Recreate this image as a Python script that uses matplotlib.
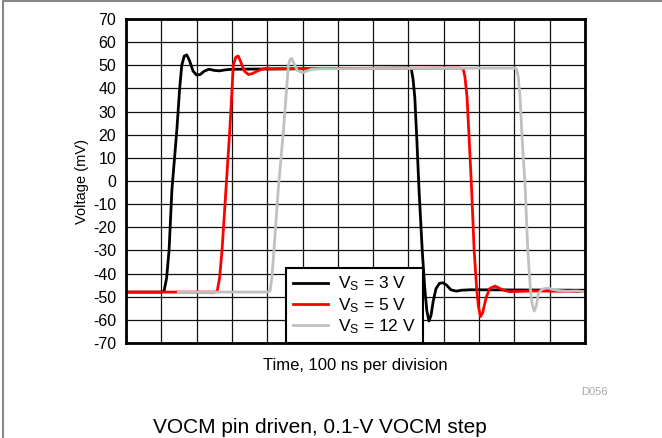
import matplotlib
matplotlib.use('Agg')
import matplotlib.pyplot as plt
from matplotlib.lines import Line2D
import numpy as np

plt.rcParams['font.family'] = ['Liberation Sans', 'DejaVu Sans']
plt.rcParams['mathtext.default'] = 'regular'
plt.rcParams['axes.unicode_minus'] = False

# time in ns, voltage in mV
t_3v = [0, 100, 108, 115, 122, 130, 144, 152, 158, 165, 172, 180, 190, 200, 210, 222, 235,
        250, 265, 280, 300, 400, 600, 800, 808, 813, 818, 824, 830, 839, 846, 852, 858,
        864, 870, 878, 888, 898, 908, 920, 935, 950, 975, 1300]
v_3v = [-48, -48, -47.5, -42, -30, -4, 22, 40, 50, 54, 54.5, 52, 47.5, 45.8, 46, 47.5, 48.3,
        47.8, 47.6, 48, 48.3, 48.4, 48.6, 48.8, 48.5, 44, 36, 17, -4, -30, -46, -56, -60.5,
        -58, -52, -46.5, -44.2, -44, -45, -47, -47.6, -47.2, -47, -47.2]

t_5v = [0, 250, 258, 265, 272, 283, 294, 304, 311, 318, 325, 335, 347, 359, 372, 385, 398,
        412, 430, 600, 945, 955, 960, 966, 972, 979, 986, 993, 998, 1004, 1010, 1016, 1021,
        1030, 1045, 1057, 1068, 1085, 1100, 1150, 1300]
v_5v = [-48, -48, -47.8, -42, -30, -4, 22, 50, 53.5, 54, 51.5, 47.5, 46, 46.5, 47.5, 48.3, 48.7,
        48.4, 48.5, 48.6, 48.8, 48.5, 45, 36, 18, -4, -30, -46, -54, -58.6, -57, -53, -50,
        -46.5, -45.4, -46.3, -47.1, -47.8, -47.8, -47.5, -47.8]

t_12v = [148, 400, 408, 413, 419, 431, 446, 460, 465, 469, 475, 485, 500, 512, 525, 545, 700,
         1098, 1106, 1111, 1116, 1122, 1130, 1138, 1145, 1150, 1156, 1162, 1168, 1178, 1190,
         1199, 1212, 1229, 1250, 1275, 1300]
v_12v = [-48, -48, -47.5, -42, -30, -4, 22, 50, 52.5, 53, 51, 47.8, 46.8, 47.5, 48.3, 48.5, 48.6,
         48.8, 48.5, 45, 36, 18, -1, -30, -46, -53, -56.2, -54, -48.6, -46.8, -46.3,
         -46.4, -47, -47.4, -47.6, -47.5, -47.8]

labels = ['V$_S$ = 3 V', 'V$_S$ = 5 V', 'V$_S$ = 12 V']
colors = ['black', '#ff0000', '#c0c0c0']

fig = plt.figure(figsize=(6.62, 4.38), dpi=100)
ax = fig.add_axes([0.1903, 0.2169, 0.6934, 0.7397])

ax.plot(t_3v, v_3v, color=colors[0], lw=2, label=labels[0], zorder=3)
ax.plot(t_5v, v_5v, color=colors[1], lw=2, label=labels[1], zorder=4)
ax.plot(t_12v, v_12v, color=colors[2], lw=2, label=labels[2], zorder=5)

ax.set_xlim(0, 1300)
ax.set_ylim(-70, 70)
ax.set_xticks(np.arange(0, 1301, 100))
ax.set_xticklabels([])
ax.set_yticks(np.arange(-70, 71, 10))
ax.tick_params(length=0, labelsize=11.5, pad=7)
ax.grid(True, color='#111111', lw=0.9)
ax.set_axisbelow(True)
for s in ax.spines.values():
    s.set_linewidth(2)
    s.set_zorder(6)

ax.set_xlabel('Time, 100 ns per division', fontsize=12, labelpad=4)
ax.set_ylabel('Voltage (mV)', fontsize=10.5, labelpad=3)

leg = ax.legend(loc='lower left', bbox_to_anchor=(0.349, 0.0), borderaxespad=0,
                fontsize=12.5, frameon=True, fancybox=False, framealpha=1,
                edgecolor='black', handlelength=2, labelspacing=0.15,
                borderpad=0.4, handletextpad=0.6)
leg.get_frame().set_linewidth(1.5)
leg.set_zorder(7)

fig.text(0.918, 0.105, 'D056', fontsize=8, color='#aaaaaa', ha='right', va='center')
fig.text(0.483, 0.025, 'VOCM pin driven, 0.1-V VOCM step', fontsize=15, ha='center', va='center')

# outer frame of the figure (top and left edges visible)
fig.add_artist(Line2D([0.005, 0.005], [0, 0.997], transform=fig.transFigure, color='#888888', lw=1.5))
fig.add_artist(Line2D([0.005, 1], [0.997, 0.997], transform=fig.transFigure, color='#888888', lw=1.5))

fig.savefig('out.png', dpi=100)
